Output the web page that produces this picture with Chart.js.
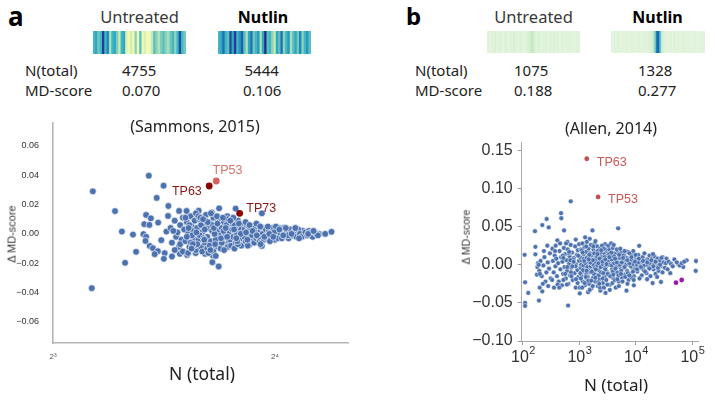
<!DOCTYPE html>
<html><head><meta charset="utf-8">
<script src="https://cdn.jsdelivr.net/npm/chart.js@4"></script>
<style>
html,body{margin:0;padding:0;background:#fff;}
body{width:715px;height:400px;position:relative;overflow:hidden;font-family:"Noto Sans",sans-serif;color:#222;}
.t{position:absolute;white-space:nowrap;line-height:1;}
.box{position:absolute;}
</style></head><body>
<div class="box" style="left:93px;top:31px;width:93px;height:23px"><canvas id="cA0" width="93" height="23"></canvas></div>
<div class="box" style="left:218px;top:31px;width:93px;height:23px"><canvas id="cA1" width="93" height="23"></canvas></div>
<div class="box" style="left:487px;top:31px;width:93px;height:22px"><canvas id="cB0" width="93" height="22"></canvas></div>
<div class="box" style="left:611px;top:31px;width:94px;height:22px"><canvas id="cB1" width="94" height="22"></canvas></div>
<div class="box" style="left:0;top:110px;width:360px;height:290px"><canvas id="scatterA" width="360" height="290"></canvas></div>
<div class="box" style="left:380px;top:110px;width:335px;height:290px"><canvas id="scatterB" width="335" height="290"></canvas></div>
<script>
// ---------------- DATA ----------------
const panelLetters = ['a', 'b'];
const conditions = ['Untreated', 'Nutlin'];
const rowLabels = ['N(total)', 'MD-score'];
const nTotalA = ['4755', '5444'];
const mdScoreA = ['0.070', '0.106'];
const nTotalB = ['1075', '1328'];
const mdScoreB = ['0.188', '0.277'];
const titleA = '(Sammons, 2015)';
const titleB = '(Allen, 2014)';
const yAxisTitle = 'Δ MD-score';
const xAxisTitle = 'N (total)';

// heatmap strip cell values (0..1)
const stripAUntreated = [.5,.55,.4,.5,.85,.5,.65,.3,.5,.55,.38,.25,.5,.55,.18,.1,.22,.12,.35,.1,.45,.12,.2,.08,.12,.25,.45,.35,.28,.38,.45,.35,.3,.4,.5,.35,.5,.8,.5,.4];
const stripANutlin = [.5,.55,.7,.5,.45,.8,.55,.85,.5,.6,.75,.45,.3,.55,.7,.4,.5,.6,.3,.55,.9,.45,.5,.35,.25,.55,.45,.7,.35,.5,.6,.3,.45,.55,.4,.65,.35,.5,.6,.45];
const stripBUntreated = [.12,.14,.1,.15,.12,.18,.11,.13,.16,.12,.1,.14,.17,.12,.11,.15,.13,.2,.12,.14,.11,.16,.13,.12,.1,.14,.16,.18,.22,.3,.2,.15,.12,.18,.13,.11,.14,.12,.16,.1,.13,.15,.12,.17,.11,.14,.12,.1,.15,.13,.11,.14,.12,.16,.1,.13,.12,.11,.14,.12];
const stripBNutlin = [.12,.1,.13,.11,.14,.12,.1,.13,.11,.12,.14,.1,.12,.13,.11,.12,.1,.14,.12,.11,.13,.12,.14,.12,.15,.16,.2,.3,.55,.82,.86,.6,.25,.16,.13,.12,.11,.13,.12,.1,.14,.12,.11,.13,.1,.12,.14,.11,.12,.13,.1,.12,.11,.13,.12,.1,.12,.11,.13,.12];

// panel a scatter (N total, delta MD-score)
const leftN = [
  9.06, 9.03, 9.71, 9.92, 10.02, 10.27, 10.37, 10.79, 11.30, 11.06,
  11.47, 11.86, 12.14, 12.61, 10.70, 10.86, 10.64, 10.81, 11.11, 11.46,
  10.61, 10.70, 10.68, 11.22, 11.40, 10.82, 10.93, 11.10, 10.99, 11.34,
  11.31, 11.60, 11.89, 12.16, 12.49, 12.86, 13.16, 13.42, 13.18, 14.15,
  13.44, 13.14, 15.36, 15.36, 13.79, 17.90, 18.36, 18.72, 19.09, 17.46, 17.50,
  11.55, 11.60, 11.70, 11.75, 11.80, 11.85, 11.90, 11.95, 12.00, 12.00, 11.65, 11.90, 11.70,
  12.05, 12.10, 12.15, 12.20, 12.25, 12.30, 12.35, 12.40, 12.45, 12.50, 12.10, 12.20, 12.30, 12.40, 12.45, 12.25, 12.35, 12.15, 12.50,
  12.55, 12.60, 12.65, 12.70, 12.75, 12.80, 12.85, 12.90, 12.95, 13.00, 12.60, 12.70, 12.75, 12.85, 12.95, 12.55, 12.65, 12.80, 12.90, 13.00,
  13.05, 13.10, 13.15, 13.20, 13.25, 13.30, 13.35, 13.40, 13.45, 13.50, 13.10, 13.20, 13.30, 13.40, 13.05, 13.15, 13.25, 13.35, 13.45, 13.50, 13.30,
  13.55, 13.60, 13.65, 13.70, 13.75, 13.80, 13.85, 13.90, 13.95, 14.00, 13.60, 13.70, 13.80, 13.90, 13.65, 13.75, 13.85, 13.95, 14.00, 13.55,
  14.05, 14.10, 14.15, 14.20, 14.25, 14.30, 14.35, 14.40, 14.45, 14.50, 14.10, 14.20, 14.30, 14.40, 14.05, 14.25, 14.45,
  14.55, 14.60, 14.65, 14.70, 14.75, 14.80, 14.85, 14.90, 14.95, 15.00, 14.60, 14.70, 14.80, 14.90, 15.00, 14.55,
  15.05, 15.10, 15.15, 15.20, 15.25, 15.30, 15.35, 15.40, 15.45, 15.50, 15.10, 15.20, 15.30, 15.40,
  15.55, 15.60, 15.70, 15.80, 15.90, 16.00, 16.10, 16.20, 16.30, 16.40, 15.65, 15.75, 15.85, 16.05, 16.15, 16.25, 16.35, 16.45, 16.50, 15.95,
  16.60, 16.70, 16.80, 16.90, 17.00, 17.10, 17.20, 17.30, 17.40, 16.65, 16.85, 17.05, 17.25, 16.55,
  17.60, 17.70, 17.80, 17.90, 18.00, 18.10, 18.20, 18.30, 17.75, 18.05,
  12.22, 12.38, 12.52, 12.68, 12.83, 12.97, 13.08, 13.22, 13.37, 13.52, 13.63, 13.78, 13.92, 14.08, 14.22, 14.38,
  14.62, 14.78, 14.92, 15.12, 15.28, 15.48, 15.72, 15.92, 16.22, 16.42, 12.33, 12.78, 13.27, 13.72, 14.18, 14.68
];
const leftDelta = [
  0.029, -0.037, 0.0155, 0.0016, -0.0197, -0.0005, -0.0122, 0.0396, 0.0328, 0.0245,
  0.019, 0.0156, 0.0156, 0.0158, 0.0129, 0.0106, 0.0066, 0.0061, 0.0077, 0.0122,
  -0.0002, -0.002, -0.0048, -0.0043, 0.0016, -0.0082, -0.0097, -0.0118, -0.0138, -0.0131,
  -0.017, -0.0154, -0.0136, -0.0143, -0.0131, -0.0136, -0.0193, -0.0222, -0.0147, 0.0172,
  0.0174, 0.0147, 0.014, -0.0082, 0.012, 0, 0, 0, 0.0014, 0.002, -0.0014,
  0.004, -0.006, 0.009, -0.002, 0.001, -0.009, 0.006, -0.004, 0.011, -0.012, 0.002, -0.007, -0.011,
  0.003, -0.005, 0.008, 0.000, -0.009, 0.012, 0.005, -0.003, 0.009, -0.011, 0.011, -0.013, -0.006, 0.002, -0.008, 0.006, -0.001, -0.002, 0.014,
  0.004, -0.004, 0.010, -0.009, 0.001, 0.007, -0.006, 0.013, -0.002, 0.004, 0.012, 0.006, -0.012, 0.003, -0.010, -0.007, -0.001, -0.003, 0.009, -0.013,
  0.008, -0.005, 0.002, 0.011, -0.009, 0.005, -0.002, 0.009, -0.006, 0.001, 0.014, -0.012, -0.004, 0.003, -0.008, 0.006, 0.000, 0.012, 0.006, -0.010, -0.015,
  0.004, -0.003, 0.008, -0.007, 0.002, 0.010, -0.005, 0.005, -0.001, 0.007, 0.011, 0.000, -0.009, -0.004, -0.011, 0.006, 0.001, -0.008, 0.003, -0.006,
  -0.002, 0.006, -0.006, 0.002, 0.009, -0.004, 0.004, -0.008, 0.001, 0.006, -0.010, -0.001, 0.007, 0.003, 0.011, -0.007, -0.003,
  0.003, -0.005, 0.006, -0.002, 0.004, -0.007, 0.001, 0.005, -0.004, 0.002, 0.008, -0.008, 0.003, -0.001, -0.006, -0.002,
  0.004, -0.003, 0.001, 0.006, -0.005, 0.002, -0.001, 0.004, -0.004, 0.001, 0.007, -0.002, -0.007, 0.000,
  0.003, -0.003, 0.002, -0.002, 0.004, -0.004, 0.001, 0.004, -0.002, 0.002, 0.005, -0.005, 0.000, 0.005, -0.003, 0.001, -0.003, 0.004, -0.001, 0.001,
  0.002, -0.003, 0.003, -0.001, 0.002, -0.002, 0.003, 0.000, -0.002, -0.001, 0.000, 0.004, -0.003, 0.004,
  0.001, -0.001, 0.002, 0.001, -0.002, 0.001, 0.000, -0.001, 0.000, 0.002,
  0.004, -0.007, 0.001, 0.011, -0.004, 0.008, -0.011, 0.004, 0.007, -0.003, 0.002, -0.002, 0.009, 0.003, -0.005, 0.000,
  0.001, 0.006, 0.002, -0.001, 0.005, -0.002, 0.000, -0.002, 0.003, -0.001, -0.010, 0.010, -0.007, 0.004, -0.003, -0.004
];
const leftGenes = ['TP53', 'TP63', 'TP73'];
const leftGeneN = [13.32, 13.03, 14.33];
const leftGeneDelta = [0.036, 0.0326, 0.0140];

// panel b scatter
const rightN = [
  107, 109, 124, 109, 109, 166, 166, 163, 192, 220, 198, 177, 220, 263, 286, 270, 180, 185, 195, 205, 215, 230, 240, 250, 260, 275, 290, 300, 310, 225, 235, 200, 280, 190,
  332, 407, 612, 861, 473, 478, 535, 702, 630, 355, 340, 350, 365, 375, 390, 400, 420, 430, 445, 460, 475, 490, 500, 515, 530, 545, 560, 575, 590, 605, 620, 640, 655, 670, 685, 700, 720, 740, 760, 780, 800, 820, 840, 860, 880, 900, 920, 940, 960, 980, 330, 380, 410, 455, 520, 580, 650, 710, 770, 850, 930, 990, 370, 440, 510, 600, 690, 750,
  1014, 1014, 1426, 1262, 1525, 1702, 1030, 1050, 1070, 1090, 1110, 1130, 1150, 1170, 1190, 1210, 1230, 1250, 1270, 1290, 1310, 1330, 1350, 1370, 1390, 1410, 1430, 1450, 1480, 1510, 1540, 1570, 1600, 1630, 1660, 1690, 1720, 1750, 1780, 1810, 1840, 1870, 1900, 1930, 1960, 1990, 2030, 2070, 2110, 2150, 2190, 2230, 2270, 2310, 2350, 2400, 2450, 2500, 2550, 2600, 2650, 2700, 2750, 2800, 2850, 2900, 2950, 3000, 3050, 3100,
  1080, 1180, 1280, 1380, 1480, 1580, 1680, 1780, 1880, 1980, 2080, 2180, 2380, 2580, 2780, 2980, 1120, 1320, 1520, 1720, 1920, 2120, 2320, 2520, 2720, 2920, 1200, 1400, 1600, 1800, 2000, 2200, 2400, 2600, 2800, 3000,
  4850, 6820, 6820, 9200, 3200, 3300, 3400, 3500, 3600, 3700, 3800, 3900, 4000, 4100, 4200, 4300, 4400, 4500, 4650, 4800, 4950, 5100, 5250, 5400, 5550, 5700, 5850, 6000, 6200, 6400, 6600, 6800, 7000, 7200, 7400, 7600, 7800, 8000, 8300, 8600, 8900, 9200, 9500, 9800,
  3250, 3450, 3650, 3850, 4050, 4250, 4600, 5000, 5300, 5800, 6300, 7100, 7700, 8400, 9000, 3350, 3750, 4150, 4550, 5150, 5650, 6100, 6700, 7300, 8100, 8800, 9600,
  11450, 19800, 27800, 29700, 10200, 10600, 11000, 11800, 12200, 12700, 13200, 13700, 14200, 14800, 15400, 16000, 16700, 17400, 18100, 18900, 19700, 20500, 21400, 22300, 23200, 24200, 25200, 26200, 27300, 28400, 29600, 30800,
  10400, 11200, 12000, 13000, 14000, 15000, 16300, 17700, 19200, 21000, 22800, 24700, 26800, 11600, 15800, 20100, 23800,
  35000, 40700, 48100, 56600, 69200, 79400, 116000, 114600, 32500, 34000, 36500, 38000, 42000, 45000, 53000, 60000, 65000, 72000,
  520, 560, 610, 660, 720, 790, 870, 950, 1040, 1100, 1160, 1220, 1300, 1360, 1440, 1500, 1560, 1650, 1740, 1830,
  1950, 2050, 2160, 2280, 2420, 2560, 2700, 2860, 3020, 3180, 3350, 3520, 3700, 3900, 4100, 4350, 4600, 4900, 5200, 5500,
  5900, 6300, 6700, 7200, 7700, 8300, 8900, 9600, 10500, 11300, 12300, 13400, 14600, 15900, 17300, 18800, 20400, 22200,
  1060, 1140, 1240, 1340, 1460, 1620, 1760, 1920, 2090, 2250, 2440, 2640, 2880, 3120, 3400, 3680, 3980, 4280, 4700, 5050,
  5450, 5950, 6450, 7050, 7650, 8350, 9150, 9900
];
const rightDelta = [
  0.013, -0.023, -0.037, -0.050, -0.054, 0.0235, 0.0137, 0.044, -0.047, -0.035, -0.030, -0.013, 0.052, 0.060, 0.049, 0.025, -0.003, 0.002, -0.008, 0.005, -0.015, -0.001, 0.010, -0.022, -0.010, 0.003, -0.005, 0.015, -0.018, -0.025, 0.018, -0.012, -0.028, 0.0,
  0.021, 0.032, 0.030, 0.033, 0.0677, 0.061, 0.045, 0.0832, -0.0535, -0.030, 0.005, -0.010, 0.012, -0.002, 0.008, -0.015, 0.002, -0.022, 0.018, -0.006, 0.010, -0.027, 0.004, -0.012, 0.022, -0.003, 0.014, -0.018, 0.006, -0.008, 0.020, -0.025, 0.001, 0.011, -0.014, 0.026, -0.004, 0.016, -0.020, 0.003, 0.009, -0.011, 0.024, -0.030, 0.000, 0.013, -0.007, 0.019, -0.016, 0.005, -0.020, 0.025, -0.026, 0.028, -0.020, 0.028, 0.015, -0.010, 0.007, -0.002, -0.024, 0.027, 0.018, -0.030, 0.012, -0.026, 0.006, -0.002,
  -0.030, -0.0376, -0.036, 0.036, 0.034, 0.045, 0.010, -0.004, 0.020, -0.015, 0.005, 0.028, -0.022, 0.001, 0.014, -0.009, 0.023, -0.027, 0.007, -0.002, 0.017, -0.012, 0.030, -0.019, 0.003, 0.011, -0.006, 0.021, -0.025, 0.000, 0.015, -0.010, 0.026, -0.031, 0.006, -0.004, 0.012, -0.017, 0.020, -0.008, 0.002, 0.028, -0.022, 0.009, -0.013, 0.017, -0.002, 0.024, -0.028, 0.004, -0.007, 0.013, -0.019, 0.021, -0.034, 0.001, 0.010, -0.011, 0.019, -0.024, 0.006, -0.003, 0.015, -0.016, 0.027, -0.037, 0.003, 0.011, -0.009, 0.018,
  0.0, -0.001, 0.002, -0.003, 0.004, -0.002, 0.001, 0.0, -0.004, 0.003, -0.001, 0.002, -0.003, 0.001, 0.004, -0.002, -0.030, 0.024, -0.033, -0.028, 0.031, 0.018, -0.030, 0.025, -0.030, 0.020, 0.008, -0.016, 0.012, -0.012, 0.008, -0.014, 0.016, -0.018, 0.010, -0.020,
  0.0478, -0.0106, -0.034, -0.027, 0.005, -0.012, 0.020, -0.026, 0.001, 0.012, -0.006, 0.022, -0.018, 0.004, -0.002, 0.015, -0.030, 0.008, -0.010, 0.018, -0.022, 0.002, 0.011, -0.005, 0.016, -0.017, 0.006, -0.001, 0.013, -0.013, 0.003, 0.009, -0.008, 0.017, -0.020, 0.001, 0.008, -0.012, 0.014, -0.004, 0.005, -0.015, 0.011, -0.002,
  0.025, -0.033, 0.028, -0.024, 0.026, -0.020, 0.020, -0.028, 0.021, -0.022, 0.018, -0.025, 0.015, -0.017, 0.018, 0.0, -0.001, 0.002, -0.003, 0.0, 0.003, -0.004, 0.0, 0.004, -0.002, 0.001, -0.006,
  0.0248, -0.024, -0.0226, 0.010, 0.006, -0.009, 0.013, -0.004, 0.002, -0.014, 0.010, -0.007, 0.015, 0.000, -0.011, 0.007, -0.003, 0.012, -0.015, 0.004, 0.009, -0.006, 0.011, -0.012, 0.001, 0.008, -0.008, 0.005, -0.002, 0.009, -0.010, 0.003,
  0.0, 0.003, -0.002, 0.004, -0.001, 0.005, 0.0, 0.002, -0.003, 0.001, 0.004, -0.004, 0.0, -0.018, -0.019, 0.014, -0.016,
  0.008, -0.011, 0.007, 0.0004, -0.003, 0.0058, 0.0049, -0.008, -0.004, 0.002, -0.006, 0.004, 0.001, -0.002, 0.003, -0.001, 0.002, 0.004,
  0.009, -0.012, -0.003, 0.017, -0.015, 0.004, -0.019, 0.012, -0.011, 0.019, -0.007, 0.005, -0.016, 0.009, -0.021, 0.013, 0.003, -0.009, 0.006, 0.015,
  -0.006, 0.011, -0.023, 0.008, -0.010, 0.004, 0.021, -0.006, 0.001, -0.012, 0.014, -0.015, 0.007, -0.009, 0.011, -0.005, 0.003, -0.014, 0.009, -0.008,
  0.012, -0.003, 0.006, -0.011, 0.002, 0.007, -0.009, 0.004, -0.006, 0.008, -0.003, 0.005, -0.009, 0.003, -0.005, 0.006, -0.002, 0.004,
  -0.018, 0.016, -0.024, -0.008, 0.007, -0.021, 0.024, -0.017, 0.014, -0.025, 0.019, -0.011, 0.007, -0.026, 0.010, 0.016, -0.013, 0.008, -0.019, 0.013,
  -0.012, 0.009, -0.016, 0.006, -0.014, 0.010, -0.020, 0.013
];
const rightGenes = ['TP63', 'TP53'];
const rightGeneN = [1349, 2143];
const rightGeneDelta = [0.139, 0.089];
const rightPurpleN = [51300, 64700];
const rightPurpleDelta = [-0.0235, -0.020];

const leftXTicks = [8, 16];
const leftXTickLabels = ['2³', '2⁴'];
const leftYTicks = [-0.06, -0.04, -0.02, 0, 0.02, 0.04, 0.06];
const rightXTicks = [100, 1000, 10000, 100000];
const rightXTickBase = '10';
const rightXTickExponents = ['2', '3', '4', '5'];
const rightYTicks = [-0.10, -0.05, 0, 0.05, 0.10, 0.15];

// ---------------- HELPERS ----------------
const ARIAL = '"Liberation Sans", Arial, sans-serif';
Chart.defaults.font.family = ARIAL;
Chart.defaults.animation = false;

function addText(txt, x, baseline, fs, opt) {
  opt = opt || {};
  const d = document.createElement('div');
  d.className = 't';
  d.textContent = txt;
  d.style.fontSize = fs + 'px';
  if (opt.family) d.style.fontFamily = opt.family;
  if (opt.weight) d.style.fontWeight = opt.weight;
  if (opt.color) d.style.color = opt.color;
  d.style.top = (baseline - 0.888 * fs) + 'px';
  d.style.left = x + 'px';
  if (opt.align === 'center') d.style.transform = 'translateX(-50%)';
  document.body.appendChild(d);
}
function addRotated(txt, cx, cy, fs, color) {
  const d = document.createElement('div');
  d.className = 't';
  d.textContent = txt;
  d.style.fontSize = fs + 'px';
  d.style.fontFamily = ARIAL;
  d.style.color = color;
  d.style.left = cx + 'px';
  d.style.top = cy + 'px';
  d.style.transform = 'translate(-50%,-50%) rotate(-90deg)';
  document.body.appendChild(d);
}
function hexToRgb(h) { return [1,3,5].map(i => parseInt(h.substr(i, 2), 16)); }
const YLGNBU = ['#ffffd9','#edf8b1','#c7e9b4','#7fcdbb','#41b6c4','#1d91c0','#225ea8','#253494','#081d58'];
const GNBU = ['#f7fcf0','#e0f3db','#ccebc5','#a8ddb5','#7bccc4','#4eb3d3','#2b8cbe','#0868ac','#084081'];
function cmap(stops, v) {
  v = Math.max(0, Math.min(1, v));
  const p = v * (stops.length - 1);
  const i = Math.min(Math.floor(p), stops.length - 2);
  const f = p - i;
  const a = hexToRgb(stops[i]), b = hexToRgb(stops[i + 1]);
  return 'rgb(' + a.map((c, k) => Math.round(c + (b[k] - c) * f)).join(',') + ')';
}

// ---------------- TEXT ----------------
addText(panelLetters[0], 8, 26, 26, {weight: 'bold', color: '#000'});
addText(panelLetters[1], 406, 25, 24, {weight: 'bold', color: '#000'});
addText(conditions[0], 139.5, 23.3, 16.5, {align: 'center', color: '#3a3a3a'});
addText(conditions[1], 263, 23.3, 16, {align: 'center', color: '#000', weight: 'bold'});
addText(conditions[0], 533.5, 23.3, 16.5, {align: 'center', color: '#3a3a3a'});
addText(conditions[1], 657.5, 23.3, 16, {align: 'center', color: '#000', weight: 'bold'});
addText(rowLabels[0], 25, 76, 15, {color: '#222'});
addText(rowLabels[1], 25, 96.7, 15, {color: '#222'});
addText(nTotalA[0], 122, 76, 15, {color: '#222'});
addText(mdScoreA[0], 122, 96.7, 15, {color: '#222'});
addText(nTotalA[1], 244.5, 76, 15, {color: '#222'});
addText(mdScoreA[1], 243, 96.7, 15, {color: '#222'});
addText(rowLabels[0], 415, 76.5, 15, {color: '#222'});
addText(rowLabels[1], 415, 96.7, 15, {color: '#222'});
addText(nTotalB[0], 514, 76.5, 15, {color: '#222'});
addText(mdScoreB[0], 514, 96.7, 15, {color: '#222'});
addText(nTotalB[1], 638, 76.5, 15, {color: '#222'});
addText(mdScoreB[1], 638, 96.7, 15, {color: '#222'});
addText(titleA, 195, 132.7, 16, {align: 'center', color: '#222'});
addText(titleB, 611, 134, 16, {align: 'center', color: '#222'});
addText(xAxisTitle, 202, 380.7, 17.5, {align: 'center', color: '#222'});
addText(xAxisTitle, 616, 391, 17, {align: 'center', color: '#222'});
addRotated(yAxisTitle, 12, 234, 11, '#333');
addRotated(yAxisTitle, 466, 237, 10.5, '#333');

// ---------------- STRIPS ----------------
function strip(id, values, stops) {
  new Chart(document.getElementById(id), {
    type: 'bar',
    data: {
      labels: values.map((_, i) => i),
      datasets: [{
        data: values.map(() => 1),
        backgroundColor: values.map(v => cmap(stops, v)),
        borderWidth: 0,
        barPercentage: 1,
        categoryPercentage: 1
      }]
    },
    options: {
      responsive: false, animation: false, events: [],
      layout: {padding: 0},
      plugins: {legend: {display: false}, tooltip: {enabled: false}},
      scales: {x: {display: false}, y: {display: false, min: 0, max: 1}}
    }
  });
}
strip('cA0', stripAUntreated, YLGNBU);
strip('cA1', stripANutlin, YLGNBU);
strip('cB0', stripBUntreated, GNBU);
strip('cB1', stripBNutlin, GNBU);

// ---------------- SCATTERS ----------------
const pointLabelPlugin = {
  id: 'pointLabels',
  afterDatasetsDraw(chart, args, opts) {
    const ctx = chart.ctx;
    (opts.items || []).forEach(it => {
      const el = chart.getDatasetMeta(it.dataset).data[it.index];
      if (!el) return;
      ctx.save();
      ctx.font = it.font;
      ctx.fillStyle = it.color;
      ctx.textAlign = it.align;
      ctx.textBaseline = 'middle';
      ctx.fillText(it.text, el.x + it.dx, el.y + it.dy);
      ctx.restore();
    });
  }
};
// draws "10" with a raised exponent under each x tick of the scale
const powerTickPlugin = {
  id: 'powerTicks',
  afterDraw(chart, args, opts) {
    if (!opts.values) return;
    const ctx = chart.ctx, sx = chart.scales.x;
    ctx.save();
    ctx.fillStyle = opts.color;
    ctx.textBaseline = 'alphabetic';
    opts.values.forEach((v, i) => {
      const x = sx.getPixelForValue(v);
      ctx.font = opts.baseSize + 'px ' + ARIAL;
      const wb = ctx.measureText(opts.base).width;
      ctx.font = opts.expSize + 'px ' + ARIAL;
      const we = ctx.measureText(opts.exps[i]).width;
      const x0 = x - (wb + we) / 2;
      ctx.font = opts.baseSize + 'px ' + ARIAL;
      ctx.textAlign = 'left';
      ctx.fillText(opts.base, x0, sx.top + opts.baseline);
      ctx.font = opts.expSize + 'px ' + ARIAL;
      ctx.fillText(opts.exps[i], x0 + wb + 0.5, sx.top + opts.baseline - opts.raise);
    });
    ctx.restore();
  }
};
const fmt2 = v => (v < 0 ? '\u2212' : '') + Math.abs(v).toFixed(2);
const toPts = (xs, ys) => xs.map((x, i) => ({x: x, y: ys[i]}));

new Chart(document.getElementById('scatterA'), {
  type: 'scatter',
  data: {
    datasets: [
      {data: toPts(leftGeneN, leftGeneDelta), order: 0, pointRadius: 3.4, borderWidth: 0,
       backgroundColor: ['#d4615f', '#8b0000', '#8b0000']},
      {data: toPts(leftN, leftDelta), order: 1, pointRadius: 3.4, borderWidth: 0.7,
       backgroundColor: '#4c72b0', borderColor: 'rgba(255,255,255,0.9)'}
    ]
  },
  options: {
    responsive: false, animation: false, events: [],
    layout: {padding: {left: 0, top: 13, right: 12, bottom: 0}},
    plugins: {
      legend: {display: false}, tooltip: {enabled: false},
      pointLabels: {items: [
        {dataset: 0, index: 0, text: leftGenes[0], dx: -3.7, dy: -10.5, align: 'left', color: '#d8726c', font: '12.5px ' + ARIAL},
        {dataset: 0, index: 1, text: leftGenes[1], dx: -7.4, dy: 5.3, align: 'right', color: '#8b1515', font: '12.5px ' + ARIAL},
        {dataset: 0, index: 2, text: leftGenes[2], dx: 6.7, dy: -4.8, align: 'left', color: '#8b1515', font: '12.5px ' + ARIAL}
      ]}
    },
    scales: {
      x: {
        type: 'logarithmic', min: 8, max: 20.1, bounds: 'data',
        afterBuildTicks: s => { s.ticks = leftXTicks.map(v => ({value: v})); },
        afterFit: s => { s.height = 57; },
        grid: {display: false},
        border: {display: true, color: '#b5b5b5', width: 1.6},
        ticks: {padding: 1, color: '#555', font: {size: 8},
          callback: (v) => leftXTickLabels[leftXTicks.indexOf(v)] ?? ''}
      },
      y: {
        type: 'linear', min: -0.0743, max: 0.0755,
        afterBuildTicks: s => { s.ticks = leftYTicks.map(v => ({value: v})); },
        afterFit: s => { s.width = 53; },
        grid: {display: false},
        border: {display: true, color: '#b5b5b5', width: 1.6},
        ticks: {padding: 6, color: '#333', font: {size: 9}, callback: v => fmt2(v)}
      }
    }
  },
  plugins: [pointLabelPlugin]
});

new Chart(document.getElementById('scatterB'), {
  type: 'scatter',
  data: {
    datasets: [
      {data: toPts(rightGeneN, rightGeneDelta), order: 0, pointRadius: 2.4, borderWidth: 0, backgroundColor: '#c44e52'},
      {data: toPts(rightPurpleN, rightPurpleDelta), order: 0, pointRadius: 2.4, borderWidth: 0, backgroundColor: '#9a1aa6'},
      {data: toPts(rightN, rightDelta), order: 1, pointRadius: 2.4, borderWidth: 0.5,
       backgroundColor: '#4c72b0', borderColor: 'rgba(255,255,255,0.9)'}
    ]
  },
  options: {
    responsive: false, animation: false, events: [],
    layout: {padding: {left: 0, top: 32, right: 17, bottom: 0}},
    plugins: {
      legend: {display: false}, tooltip: {enabled: false},
      pointLabels: {items: [
        {dataset: 0, index: 0, text: rightGenes[0], dx: 10, dy: 4, align: 'left', color: '#c8585a', font: '12.5px ' + ARIAL},
        {dataset: 0, index: 1, text: rightGenes[1], dx: 10, dy: 3, align: 'left', color: '#c8585a', font: '12.5px ' + ARIAL}
      ]},
      powerTicks: {values: rightXTicks, base: rightXTickBase, exps: rightXTickExponents,
        baseSize: 16, expSize: 11, baseline: 21, raise: 8, color: '#333'}
    },
    scales: {
      x: {
        type: 'logarithmic', min: 95, max: 126000, bounds: 'data',
        afterBuildTicks: s => { s.ticks = rightXTicks.map(v => ({value: v})); },
        afterFit: s => { s.height = 59; },
        grid: {display: true, drawOnChartArea: false, drawTicks: true, tickLength: 4, color: '#999'},
        border: {display: true, color: '#aaa', width: 1},
        ticks: {padding: 3, font: {size: 16}, callback: () => ''}
      },
      y: {
        type: 'linear', min: -0.1, max: 0.161,
        afterBuildTicks: s => { s.ticks = rightYTicks.map(v => ({value: v})); },
        afterFit: s => { s.width = 141.7; },
        grid: {display: true, drawOnChartArea: false, drawTicks: true, tickLength: 4, color: '#999'},
        border: {display: true, color: '#aaa', width: 1},
        ticks: {padding: 5, color: '#333', font: {size: 16}, callback: v => fmt2(v)}
      }
    }
  },
  plugins: [pointLabelPlugin, powerTickPlugin]
});
</script>
</body></html>
